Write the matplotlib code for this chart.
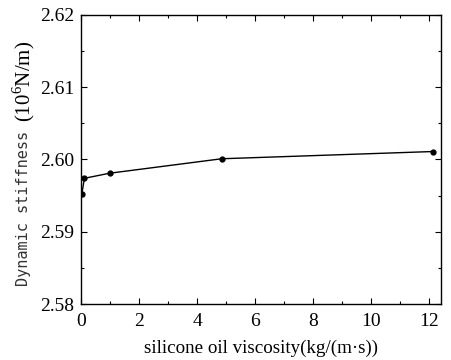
import matplotlib
matplotlib.use("Agg")
import matplotlib.pyplot as plt
from matplotlib.ticker import MultipleLocator

viscosity = [0.01, 0.1, 0.97, 4.84, 12.14]
stiffness = [2.5952, 2.5974, 2.5981, 2.6001, 2.6011]

x_ticks = [0, 2, 4, 6, 8, 10, 12]
y_ticks = [2.58, 2.59, 2.60, 2.61, 2.62]

plt.rcParams["font.family"] = "Liberation Serif"
plt.rcParams["mathtext.fontset"] = "custom"
plt.rcParams["mathtext.rm"] = "Liberation Serif"

fig = plt.figure(figsize=(4.51, 3.60), dpi=100)
ax = fig.add_axes([0.1807, 0.155, 0.9778 - 0.1807, 0.959 - 0.155])

ax.plot(viscosity, stiffness, color="black", lw=1.0, marker="o", ms=3.5)

ax.set_xlim(0, 12.41)
ax.set_ylim(2.58, 2.62)
ax.set_xticks(x_ticks)
ax.set_yticks(y_ticks)
ax.set_yticklabels([f"{v:.2f}" for v in y_ticks])
ax.xaxis.set_minor_locator(MultipleLocator(1))
ax.yaxis.set_minor_locator(MultipleLocator(0.005))
ax.tick_params(which="both", direction="in", top=True, right=True, labelsize=14, width=0.8)
ax.tick_params(which="major", length=4)
ax.tick_params(which="minor", length=2.5)
ax.tick_params(axis="x", which="major", pad=6)
ax.tick_params(axis="y", which="major", pad=5)
for s in ax.spines.values():
    s.set_linewidth(1.0)

ax.set_xlabel("silicone oil viscosity(kg/(m\u00b7s))", fontsize=13.7, labelpad=7)

# y label: monospace words followed by serif unit
fig.canvas.draw()
r = fig.canvas.get_renderer()
t1 = fig.text(24 / 451, 1 - 286 / 360, "Dynamic stiffness ", rotation=90,
              ha="center", va="bottom", fontsize=11, family="DejaVu Sans Mono",
              color="#333333")
bb = t1.get_window_extent(r)
fig.text(24 / 451, bb.y1 / fig.bbox.height, "(10$^6$N/m)", rotation=90,
         ha="center", va="bottom", fontsize=15)

fig.savefig("out.png", dpi=100)
